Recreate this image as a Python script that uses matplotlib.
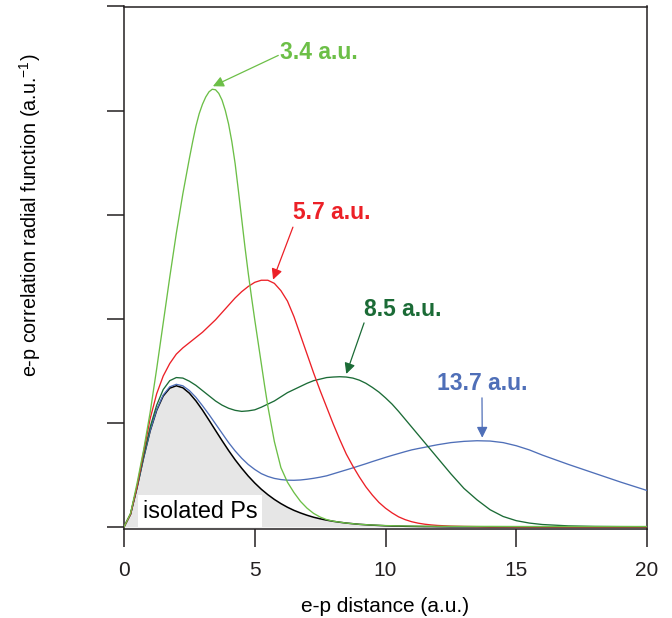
import numpy as np
import matplotlib
matplotlib.use("Agg")
import matplotlib.pyplot as plt

plt.rcParams['font.family'] = ['Liberation Sans', 'DejaVu Sans']
plt.rcParams['mathtext.fontset'] = 'custom'
plt.rcParams['mathtext.rm'] = 'Liberation Sans'

# e-p distance grid (a.u.) for the black, red, dark green and blue curves
dist = [0, 0.25, 0.5, 0.75, 1, 1.25, 1.5, 1.75, 2, 2.25, 2.5, 2.75, 3, 3.25, 3.5, 3.75,
        4, 4.25, 4.5, 4.75, 5, 5.25, 5.5, 5.75, 6, 6.25, 6.5, 6.75, 7, 7.25, 7.5, 7.75,
        8, 8.25, 8.5, 8.75, 9, 9.25, 9.5, 9.75, 10, 10.25, 10.5, 10.75, 11, 11.25, 11.5,
        11.75, 12, 12.5, 13, 13.5, 14, 14.5, 15, 15.5, 16, 17, 18, 19, 20]

# isolated Ps
ps_iso = [0, 0.122, 0.380, 0.666, 0.922, 1.121, 1.258, 1.333, 1.356, 1.337, 1.285, 1.211,
          1.123, 1.026, 0.927, 0.829, 0.734, 0.645, 0.564, 0.489, 0.422, 0.362, 0.310,
          0.264, 0.224, 0.189, 0.159, 0.134, 0.112, 0.093, 0.078, 0.065, 0.054, 0.045,
          0.037, 0.031, 0.025, 0.021, 0.017, 0.014, 0.011, 0.009, 0.008, 0.006, 0.005,
          0.004, 0.003, 0.003, 0.002, 0.001, 0.001, 0.001, 0.0, 0.0, 0.0, 0.0, 0.0,
          0.0, 0.0, 0.0, 0.0]

# 5.7 a.u.
g57 = [0, 0.123, 0.39, 0.72, 1.04, 1.28, 1.45, 1.57, 1.66, 1.72, 1.77, 1.82, 1.87, 1.93,
       1.99, 2.06, 2.13, 2.20, 2.26, 2.31, 2.35, 2.37, 2.37, 2.34, 2.27, 2.17, 2.02,
       1.84, 1.66, 1.48, 1.31, 1.15, 0.99, 0.84, 0.70, 0.585, 0.48, 0.385, 0.305, 0.235,
       0.18, 0.135, 0.097, 0.07, 0.05, 0.036, 0.026, 0.019, 0.014, 0.008, 0.005, 0.003,
       0.002, 0.002, 0.001, 0.001, 0.001, 0.001, 0.001, 0.001, 0.001]

# 8.5 a.u.
g85 = [0, 0.123, 0.385, 0.685, 0.96, 1.17, 1.32, 1.405, 1.435, 1.43, 1.40, 1.36, 1.31,
       1.26, 1.21, 1.17, 1.14, 1.12, 1.11, 1.115, 1.125, 1.15, 1.18, 1.21, 1.25, 1.29,
       1.32, 1.35, 1.38, 1.405, 1.42, 1.435, 1.44, 1.443, 1.44, 1.43, 1.41, 1.38, 1.34,
       1.295, 1.24, 1.18, 1.11, 1.035, 0.96, 0.885, 0.81, 0.735, 0.66, 0.51, 0.37, 0.26,
       0.165, 0.10, 0.06, 0.037, 0.023, 0.010, 0.005, 0.003, 0.002]

# 13.7 a.u.
g137 = [0, 0.122, 0.38, 0.668, 0.926, 1.128, 1.268, 1.346, 1.370, 1.356, 1.31, 1.245,
        1.165, 1.08, 0.99, 0.90, 0.81, 0.73, 0.66, 0.60, 0.552, 0.512, 0.485, 0.466,
        0.455, 0.449, 0.448, 0.451, 0.458, 0.467, 0.478, 0.491, 0.51, 0.529, 0.548,
        0.567, 0.587, 0.607, 0.628, 0.648, 0.668, 0.687, 0.705, 0.723, 0.74, 0.753,
        0.765, 0.778, 0.79, 0.81, 0.822, 0.828, 0.825, 0.81, 0.78, 0.74, 0.69, 0.60,
        0.515, 0.43, 0.35]

# 3.4 a.u. (own grid, denser around the narrow peak)
dist_34 = [0, 0.25, 0.5, 0.75, 1, 1.25, 1.5, 1.75, 2, 2.25, 2.5,
           2.625, 2.75, 2.875, 3.0, 3.125, 3.25, 3.375, 3.5, 3.625, 3.75, 3.875, 4.0,
           4.125, 4.25, 4.375, 4.5, 4.625, 4.75, 4.875, 5.0, 5.125, 5.25, 5.375, 5.5,
           5.75, 6, 6.25, 6.5, 6.75, 7, 7.25, 7.5, 7.75, 8,
           8.5, 9, 9.5, 10, 10.5, 11, 11.5, 12,
           13, 14, 15, 16, 17, 18, 19, 20]
g34 = [0, 0.13, 0.42, 0.74, 1.10, 1.52, 1.96, 2.40, 2.82, 3.20, 3.54,
       3.70, 3.85, 3.97, 4.06, 4.13, 4.18, 4.205, 4.20, 4.165, 4.10, 4.00, 3.87,
       3.70, 3.49, 3.23, 2.96, 2.69, 2.44, 2.21, 1.99, 1.78, 1.57, 1.36, 1.16,
       0.82, 0.57, 0.43, 0.33, 0.245, 0.18, 0.13, 0.095, 0.07, 0.055,
       0.037, 0.025, 0.018, 0.013, 0.010, 0.008, 0.007, 0.006,
       0.005, 0.005, 0.004, 0.004, 0.004, 0.004, 0.004, 0.004]

labels = ['3.4 a.u.', '5.7 a.u.', '8.5 a.u.', '13.7 a.u.']
seps = [3.4, 5.7, 8.5, 13.7]
colors = ['#6cbf47', '#ec2027', '#1b6b36', '#4f6fb8']
# label text position (left edge, centre) and arrow tail, data units
text_pos = [(5.95, 4.56), (6.46, 3.02), (9.18, 2.09), (11.97, 1.375)]
arrow_start = [(5.9, 4.53), (6.46, 2.88), (9.18, 1.96), (13.69, 1.24)]

fig = plt.figure(figsize=(6.72, 6.18), dpi=100)
ax = fig.add_axes([124 / 672, 1 - 529 / 618, 523 / 672, 522.5 / 618])

ax.fill_between(dist, ps_iso, 0, color='#e6e6e6', lw=0, zorder=1)
ax.plot(dist, ps_iso, color='black', lw=1.1, zorder=3)

curve_x = [dist_34, dist, dist, dist]
curve_y = [g34, g57, g85, g137]
for cx, cy, c, z in zip(curve_x, curve_y, colors, [7, 6, 5, 4]):
    ax.plot(cx, cy, color=c, lw=0.95, zorder=z, solid_joinstyle='round')

for lab, sep, c, tp, st, cx, cy in zip(labels, seps, colors, text_pos, arrow_start,
                                       curve_x, curve_y):
    tip_y = np.interp(sep, cx, cy) + 0.03
    ax.annotate('', xy=(sep, tip_y), xytext=st,
                arrowprops=dict(arrowstyle='-|>', color=c, lw=0.9,
                                mutation_scale=16, shrinkA=0, shrinkB=0), zorder=8)
    ax.text(tp[0], tp[1], lab, color=c, fontsize=16.5, fontweight='bold',
            ha='left', va='center', zorder=9)

ax.text(0.72, 0.15, 'isolated Ps', fontsize=16.8, ha='left', va='center', zorder=9,
        bbox=dict(boxstyle='square,pad=0.2', facecolor='white', edgecolor='none'))

ax.set_xlim(0, 20)
ax.set_ylim(-0.02, 5.0)
ax.set_xticks([0, 5, 10, 15, 20])
ax.set_yticks([0, 1, 2, 3, 4, 5])
ax.set_yticklabels([])
ax.tick_params(axis='x', direction='out', length=13, width=1.1, labelsize=15, pad=10,
               colors='#231f20')
ax.tick_params(axis='y', direction='out', length=12.5, width=1.1, colors='#231f20')
for sp in ax.spines.values():
    sp.set_linewidth(1.1)
    sp.set_color('#231f20')

ax.set_xlabel('e-p distance (a.u.)', fontsize=15, labelpad=12)
ax.set_ylabel(r'e-p correlation radial function (a.u.$^{-1}$)', fontsize=14.2)
ax.yaxis.set_label_coords(-0.155, 0.60)

fig.savefig('out.png', dpi=100)
